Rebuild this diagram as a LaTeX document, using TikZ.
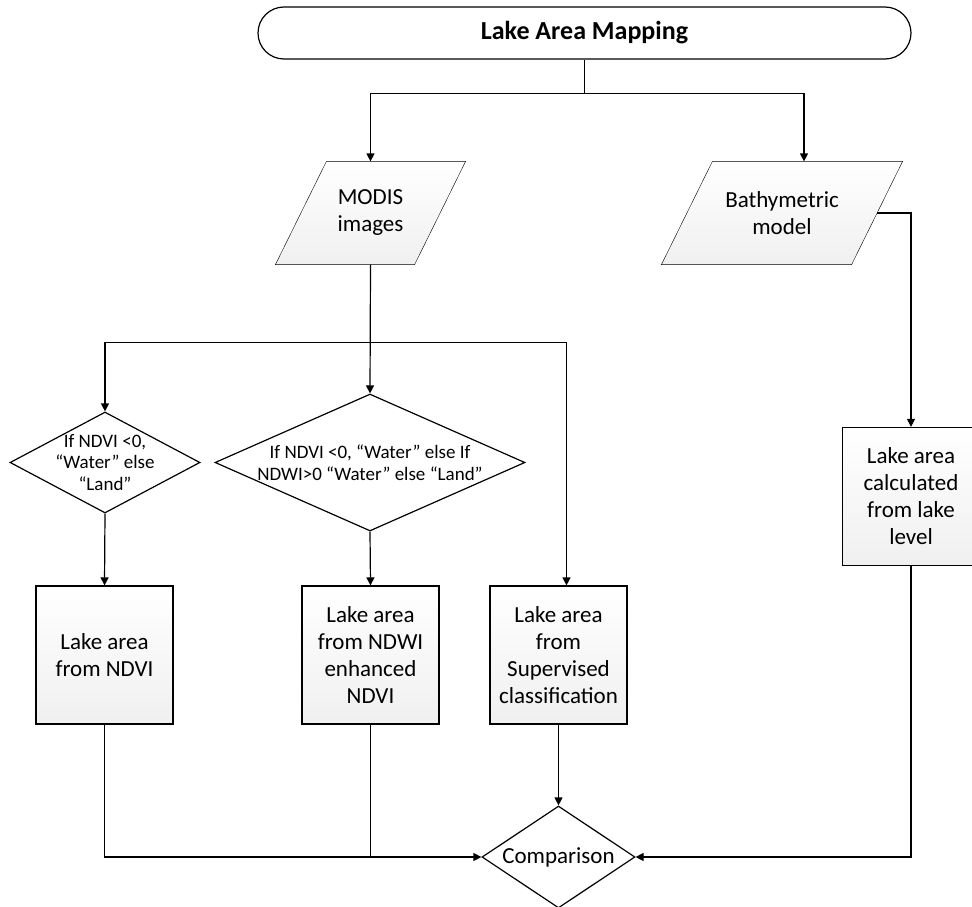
\documentclass[tikz,border=0pt]{standalone}
\usepackage{fontspec}
\setmainfont{Carlito}
\usetikzlibrary{shapes.geometric}
\usetikzlibrary{arrows.meta}
\usetikzlibrary{backgrounds}

\begin{document}
\begin{tikzpicture}[x=1pt, y=-1pt, line width=1.2pt,
            title node/.style={rectangle, draw, rounded corners=26, minimum width=653, minimum height=52, inner sep=0pt, font=\fontsize{26}{30}\selectfont\bfseries},
            data node/.style={rectangle, minimum height=102, inner sep=0pt, align=center, font=\fontsize{23}{27}\selectfont},
            test node/.style={diamond, draw, fill=white, inner sep=0pt},
            test text/.style={align=center, inner sep=0pt, font=\fontsize{19}{21.5}\selectfont},
            result node/.style={rectangle, draw, top color=white, bottom color=black!6, minimum width=137, minimum height=138, inner sep=0pt, align=center, font=\fontsize{23}{27}\selectfont},
            flow/.style={-{Triangle[width=8pt,length=8pt]}},
            ]
            \useasboundingbox (0,0) rectangle (972,907);
            \def\slant{25.5}

            \node[title node] (title) at (584.5,33) {Lake Area Mapping};

            \node[data node, minimum width=138] (modis) at (370.5,213) {MODIS\\images};
            \node[data node, minimum width=189] (bathy) at (782,213) {Bathymetric\\model};
            % parallelogram outlines behind the texts
            \begin{scope}[on background layer]
              \foreach \n in {modis,bathy}
                \draw[top color=white, bottom color=black!6] ([xshift=\slant]\n.north west) -- ([xshift=\slant]\n.north east)
                  -- ([xshift=-\slant]\n.south east) -- ([xshift=-\slant]\n.south west) -- cycle;
            \end{scope}

            \node[test node, minimum width=190, minimum height=101] (d1) at (105,462.5) {};
            \node[test text] (d1 text) at (d1) {If NDVI <0,\\“Water” else\\“Land”};
            \node[test node, minimum width=310, minimum height=137] (d2) at (370,462.5) {};
            \node[test text] (d2 text) at (d2) {If NDVI <0, “Water” else If\\NDWI>0 “Water” else “Land”};

            \node[result node] (ndvi) at (104.5,655) {Lake area\\from NDVI};
            \node[result node] (ndwi) at (370.5,655) {Lake area\\from NDWI\\enhanced\\NDVI};
            \node[result node] (sup) at (558.5,655) {Lake area\\from\\Supervised\\classification};
            \node[result node] (level) at (911,496.5) {Lake area\\calculated\\from lake\\level};

            \node[test node, minimum width=153, minimum height=102] (comp) at (558.5,857) {};
            \node[test text, font=\fontsize{23}{27}\selectfont] (comp text) at (comp) {Comparison};

            \draw[flow] (title.south) -- ++(0,34) -| (modis.north);
            \draw[flow] (title.south) ++(0,34) -| ([xshift=22]bathy.north);
            \draw[flow] (modis.south) -- (d2.north);
            \draw[flow] (modis.south) ++(0,78) -| (d1.north);
            \draw[flow] (modis.south) ++(0,78) -| ([xshift=8]sup.north);
            \draw[flow] (d1.south) -- (ndvi.north);
            \draw[flow] (d2.south) -- (ndwi.north);
            \draw[flow] (bathy.east) -| (level.north);
            \draw[flow] (ndvi.south) |- (comp.west);
            \draw (ndwi.south) -- (ndwi.south |- comp.west);
            \draw[flow] (sup.south) -- (comp.north);
            \draw[flow] (level.south) |- (comp.east);
        \end{tikzpicture}
\end{document}
